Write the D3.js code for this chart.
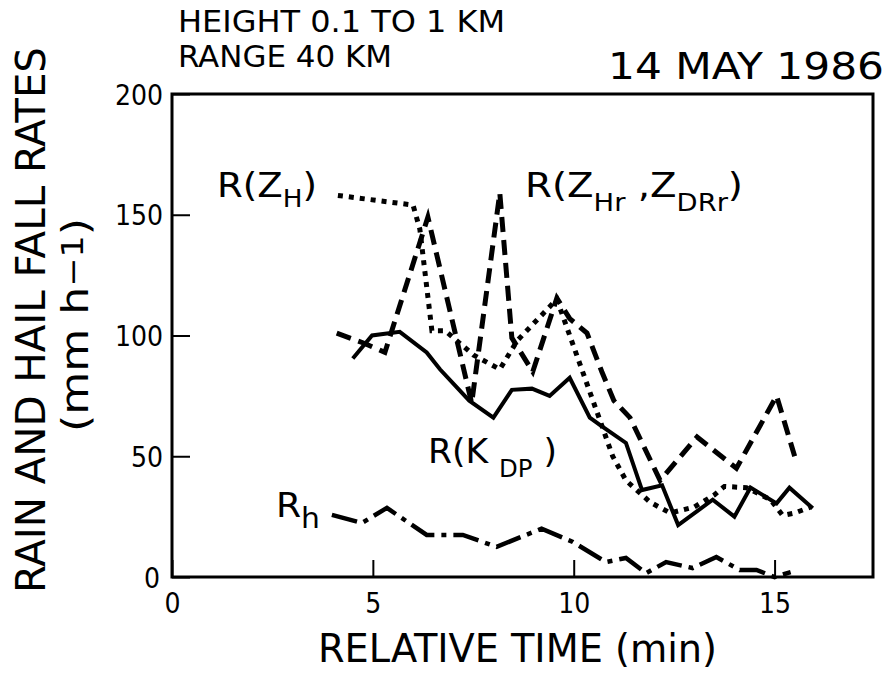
<!DOCTYPE html>
<html>
<head>
<meta charset="utf-8">
<script src="https://cdn.jsdelivr.net/npm/d3@7"></script>
<style>
  html, body { margin: 0; padding: 0; background: #fff; }
  svg { display: block; }
  text { font-family: "Liberation Sans Narrow", "DejaVu Sans Condensed", "Liberation Sans", sans-serif; font-stretch: condensed; fill: #000; }
</style>
</head>
<body>
<svg id="chart" width="891" height="677"></svg>
<script>
// ---- data ----
const timeZH   = [4.13, 6.0, 6.17, 6.47, 6.8, 7.5, 8.16, 8.6, 9.58, 10.65, 10.97, 11.3, 11.9, 12.4, 13.0, 13.5, 13.75, 14.3, 14.9, 15.2, 15.5, 15.9];
const rateZH   = [158, 154, 144, 102, 102, 92, 86, 98, 115, 65, 50, 40, 31, 26.5, 29, 34, 37.5, 37, 32, 25.5, 26.5, 29];

const timeZHr  = [4.1, 4.75, 5.3, 6.37, 7.46, 8.16, 8.46, 8.98, 9.58, 9.9, 10.33, 10.7, 11.0, 11.4, 12.15, 13.07, 14.05, 15.05, 15.5];
const rateZHr  = [101, 97, 93, 149, 72, 159, 99, 85, 115.5, 107, 101, 85, 73, 66, 40, 58, 45, 75, 50];

const timeKDP  = [4.5, 4.98, 5.67, 6.34, 6.67, 7.4, 8.0, 8.46, 8.96, 9.4, 9.9, 10.4, 10.65, 11.3, 11.7, 12.2, 12.6, 13.46, 14.0, 14.4, 15.05, 15.37, 15.95];
const rateKDP  = [90.5, 100, 101.5, 93, 86, 73, 66, 77.5, 78, 75, 82.5, 66, 63, 55.5, 36, 38, 21.5, 32, 25, 37, 30.5, 37, 28.5];

const timeRh   = [3.98, 4.73, 5.35, 6.34, 7.24, 8.08, 9.2, 9.98, 10.8, 11.3, 11.8, 12.3, 12.96, 13.55, 14.13, 14.55, 15.0, 15.4];
const rateRh   = [25.7, 22.4, 28.6, 17.4, 17.4, 12.5, 20, 14.5, 6.2, 7.9, 1.6, 6.2, 3.7, 8.3, 2.9, 2.9, 0, 2];

const xTicks = [0, 5, 10, 15];
const yTicks = [0, 50, 100, 150, 200];

// ---- layout ----
const svg = d3.select("#chart");
const x = d3.scaleLinear().domain([0, 17.45]).range([172, 873]);
const y = d3.scaleLinear().domain([0, 200]).range([577, 94]);

const line = d3.line().x(d => x(d[0])).y(d => y(d[1]));
const zip = (a, b) => a.map((t, i) => [t, b[i]]);

// frame
svg.append("rect")
  .attr("x", x(0)).attr("y", y(200))
  .attr("width", x(17.45) - x(0)).attr("height", y(0) - y(200))
  .attr("fill", "none").attr("stroke", "#000").attr("stroke-width", 3);

// axes (inward ticks)
const xAxis = svg.append("g").attr("transform", `translate(0,${y(0)})`)
  .call(d3.axisBottom(x).tickValues(xTicks).tickSize(-17).tickFormat(d3.format("d")));
xAxis.select(".domain").remove();
xAxis.selectAll("line").attr("stroke", "#000").attr("stroke-width", 2);
xAxis.selectAll("text").attr("y", 36).attr("dy", 0)
  .style("font-size", "28px");

const yAxis = svg.append("g").attr("transform", `translate(${x(0)},0)`)
  .call(d3.axisLeft(y).tickValues(yTicks).tickSize(-18).tickPadding(9)
        .tickFormat(d => d === 0 ? "" : d3.format("d")(d)));
yAxis.select(".domain").remove();
yAxis.selectAll("line").attr("stroke", "#000").attr("stroke-width", 2);
yAxis.selectAll("text").attr("dy", "0.36em").style("font-size", "28px");
// y "0" sits slightly below the corner
svg.append("text").attr("x", x(0) - 12).attr("y", y(0) + 11)
  .attr("text-anchor", "end").style("font-size", "28px").text(yTicks[0]);

// ---- series ----
const series = [
  { data: zip(timeZH, rateZH),   dash: "5,6",        w: 5 },
  { data: zip(timeZHr, rateZHr), dash: "15,8",       w: 5 },
  { data: zip(timeKDP, rateKDP), dash: null,         w: 4 },
  { data: zip(timeRh, rateRh),   dash: "26,7,5,7",   w: 4.5 }
];
svg.append("g").selectAll("path").data(series).join("path")
  .attr("d", d => line(d.data))
  .attr("fill", "none").attr("stroke", "#000")
  .attr("stroke-width", d => d.w)
  .attr("stroke-linejoin", "miter")
  .attr("stroke-dasharray", d => d.dash);

// ---- titles ----
svg.append("text").attr("x", 178).attr("y", 32).style("font-size", "30px")
  .attr("textLength", 327).attr("lengthAdjust", "spacingAndGlyphs").text("HEIGHT 0.1 TO 1 KM");
svg.append("text").attr("x", 178).attr("y", 67).style("font-size", "30px")
  .attr("textLength", 214).attr("lengthAdjust", "spacingAndGlyphs").text("RANGE 40 KM");
svg.append("text").attr("x", 608).attr("y", 79).style("font-size", "38px")
  .attr("textLength", 276).attr("lengthAdjust", "spacingAndGlyphs").text("14 MAY 1986");

// axis titles
svg.append("text").attr("transform", "translate(45,593) rotate(-90)")
  .style("font-size", "41px").attr("textLength", 546).attr("lengthAdjust", "spacingAndGlyphs")
  .text("RAIN AND HAIL FALL RATES");
const yl2 = svg.append("text").attr("transform", "translate(88,432) rotate(-90)")
  .style("font-size", "38px").attr("textLength", 214).attr("lengthAdjust", "spacingAndGlyphs");
yl2.append("tspan").text("(mm h");
yl2.append("tspan").attr("dy", -5).style("font-size", "30px").text("\u22121");
yl2.append("tspan").attr("dy", 5).text(")");

svg.append("text").attr("x", 318).attr("y", 662).style("font-size", "39px")
  .attr("textLength", 399).attr("lengthAdjust", "spacingAndGlyphs").text("RELATIVE TIME (min)");

// ---- series labels ----
function label(xp, yp, len, parts) {
  const t = svg.append("text").attr("x", xp).attr("y", yp).style("font-size", "34px")
    .attr("textLength", len).attr("lengthAdjust", "spacingAndGlyphs");
  parts.forEach(p => {
    const s = t.append("tspan").text(p.t);
    if (p.dy) s.attr("dy", p.dy);
    if (p.fs) s.style("font-size", p.fs + "px");
  });
}
label(217, 197, 100, [{t: "R(Z"}, {t: "H", dy: 10, fs: 24}, {t: ")", dy: -10}]);
label(525, 197, 218, [{t: "R(Z"}, {t: "Hr", dy: 14, fs: 24}, {t: " ,Z", dy: -14}, {t: "DRr", dy: 14, fs: 24}, {t: ")", dy: -14}]);
label(428, 463, 129, [{t: "R(K "}, {t: "DP", dy: 14, fs: 24}, {t: " )", dy: -14}]);
label(276, 517, 44, [{t: "R"}, {t: "h", dy: 11, fs: 28}]);
</script>
</body>
</html>
